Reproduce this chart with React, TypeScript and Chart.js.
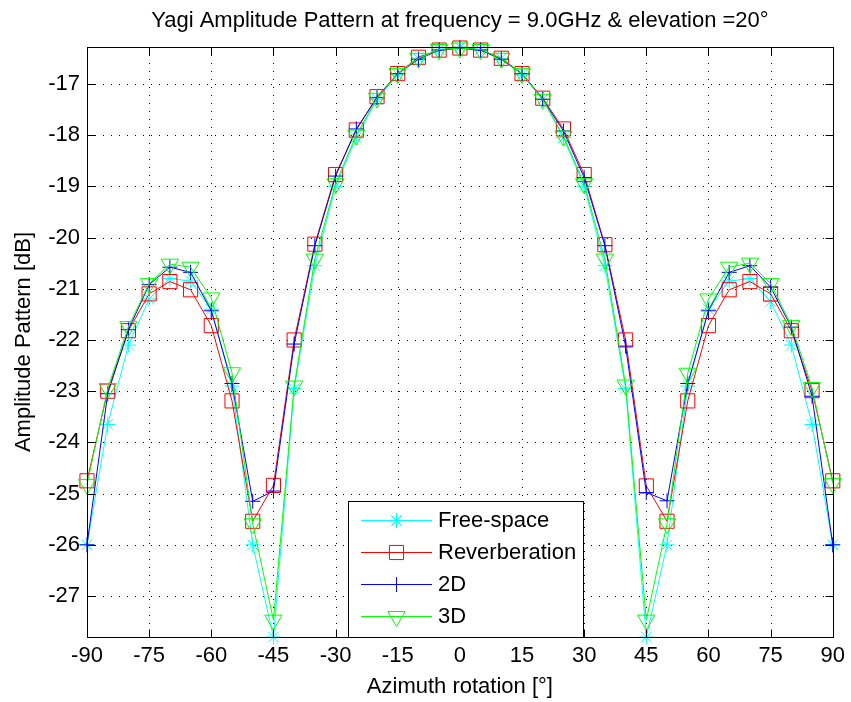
import { useEffect, useRef } from "react";
import { Chart, registerables } from "chart.js";
import { drawPoint } from "chart.js/helpers";

Chart.register(...registerables);

// ---------- data ----------
const azimuth = [
  -90, -85, -80, -75, -70, -65, -60, -55, -50, -45, -40, -35, -30, -25, -20, -15, -10, -5, 0,
  5, 10, 15, 20, 25, 30, 35, 40, 45, 50, 55, 60, 65, 70, 75, 80, 85, 90,
];

const freeSpace = [
  -26.0, -23.65, -22.1, -21.2, -20.8, -20.85, -21.4, -22.9, -26.0, -27.8, -22.95, -20.55, -19.0,
  -18.05, -17.3, -16.82, -16.5, -16.33, -16.28, -16.33, -16.5, -16.82, -17.3, -18.05, -19.0,
  -20.55, -22.95, -27.8, -26.0, -22.9, -21.4, -20.85, -20.8, -21.25, -22.1, -23.65, -26.0,
];

const reverberation = [
  -24.75, -23.0, -21.82, -21.1, -20.86, -21.02, -21.72, -23.19, -25.54, -24.84, -22.0, -20.13,
  -18.77, -17.9, -17.25, -16.8, -16.48, -16.34, -16.3, -16.34, -16.5, -16.8, -17.28, -17.88,
  -18.77, -20.14, -22.0, -24.85, -25.54, -23.19, -21.72, -21.02, -20.86, -21.1, -21.82, -22.99,
  -24.75,
];

const twoD = [
  -26.0, -23.05, -21.8, -20.92, -20.58, -20.68, -21.43, -22.85, -25.15, -24.95, -22.08, -20.16,
  -18.8, -17.88, -17.27, -16.8, -16.52, -16.34, -16.3, -16.34, -16.52, -16.8, -17.3, -17.92,
  -18.83, -20.16, -22.12, -24.98, -25.14, -22.85, -21.43, -20.68, -20.55, -20.97, -21.75, -23.1,
  -26.0,
];

const threeD = [
  -24.82, -22.95, -21.74, -20.9, -20.52, -20.58, -21.18, -22.64, -25.59, -27.47, -22.9, -20.42,
  -18.95, -18.0, -17.28, -16.8, -16.5, -16.33, -16.3, -16.33, -16.5, -16.8, -17.3, -18.02,
  -18.95, -20.42, -22.88, -27.47, -25.59, -22.65, -21.2, -20.58, -20.5, -20.9, -21.72, -22.93,
  -24.8,
];

const seriesNames = ["Free-space", "Reverberation", "2D", "3D"];
const xTickValues = [-90, -75, -60, -45, -30, -15, 0, 15, 30, 45, 60, 75, 90];
const yTickValues = [-27, -26, -25, -24, -23, -22, -21, -20, -19, -18, -17];
const xMin = -90;
const xMax = 90;
const yMin = -27.8;
const yMax = -16.28;

const titleText = "Yagi Amplitude Pattern at frequency = 9.0GHz & elevation =20°";
const xTitleText = "Azimuth rotation [°]";
const yTitleText = "Amplitude Pattern [dB]";

// ---------- styles ----------
const FONT_FAMILY = '"Liberation Sans", Arial, Helvetica, sans-serif';
const FONT_SIZE = 22;

const seriesStyles = [
  { color: "#00FFFF", pointStyle: "star", radius: 7.5, rotation: 0 },
  { color: "#FF0000", pointStyle: "rect", radius: 10, rotation: 0 },
  { color: "#0000FF", pointStyle: "cross", radius: 7.5, rotation: 0 },
  { color: "#00FF00", pointStyle: "triangle", radius: 10, rotation: 180 },
];

const seriesValues = [freeSpace, reverberation, twoD, threeD];

const matlabPlugin = {
  id: "matlabDecor",
  beforeDatasetsDraw(chart: any) {
    const { ctx, chartArea: a, scales } = chart;
    const x = scales.x;
    const y = scales.y;
    ctx.save();
    ctx.strokeStyle = "#000";
    ctx.lineWidth = 1;
    ctx.setLineDash([1, 7]);
    for (const v of xTickValues) {
      const px = Math.round(x.getPixelForValue(v)) + 0.5;
      ctx.beginPath();
      ctx.moveTo(px, a.top);
      ctx.lineTo(px, a.bottom);
      ctx.stroke();
    }
    for (const v of yTickValues) {
      const py = Math.round(y.getPixelForValue(v)) + 0.5;
      ctx.beginPath();
      ctx.moveTo(a.left, py);
      ctx.lineTo(a.right, py);
      ctx.stroke();
    }
    ctx.restore();
  },
  afterDatasetsDraw(chart: any) {
    const { ctx, chartArea: a, scales } = chart;
    const x = scales.x;
    const y = scales.y;
    const L = Math.round(a.left) + 0.5;
    const R = Math.round(a.right) + 0.5;
    const T = Math.round(a.top) + 0.5;
    const B = Math.round(a.bottom) + 0.5;
    const tl = 8;
    ctx.save();
    ctx.strokeStyle = "#000";
    ctx.lineWidth = 1;
    ctx.setLineDash([]);
    // inward ticks
    ctx.beginPath();
    for (const v of xTickValues) {
      const px = Math.round(x.getPixelForValue(v)) + 0.5;
      ctx.moveTo(px, B);
      ctx.lineTo(px, B - tl);
      ctx.moveTo(px, T);
      ctx.lineTo(px, T + tl);
    }
    for (const v of yTickValues) {
      const py = Math.round(y.getPixelForValue(v)) + 0.5;
      ctx.moveTo(L, py);
      ctx.lineTo(L + tl, py);
      ctx.moveTo(R, py);
      ctx.lineTo(R - tl, py);
    }
    ctx.stroke();

    // legend
    const lgL = 348.5;
    const lgR = 583.5;
    const lgT = 501.5;
    const lgB = B;
    ctx.fillStyle = "#fff";
    ctx.fillRect(lgL, lgT, lgR - lgL, lgB - lgT);
    ctx.strokeRect(lgL, lgT, lgR - lgL, lgB - lgT);
    const rows = [520, 552, 584, 616];
    ctx.font = `${FONT_SIZE}px ${FONT_FAMILY}`;
    ctx.textBaseline = "middle";
    ctx.textAlign = "left";
    seriesNames.forEach((name, i) => {
      const st = seriesStyles[i];
      const ry = rows[i] + 0.5;
      ctx.strokeStyle = st.color;
      ctx.lineWidth = 1;
      ctx.beginPath();
      ctx.moveTo(361, ry);
      ctx.lineTo(432, ry);
      ctx.stroke();
      ctx.fillStyle = "rgba(0,0,0,0)";
      drawPoint(
        ctx,
        { pointStyle: st.pointStyle, rotation: st.rotation, radius: st.radius, borderWidth: 1 } as any,
        396.5,
        ry
      );
      ctx.fillStyle = "#000";
      ctx.fillText(name, 438, rows[i] + 1);
    });

    // box
    ctx.strokeStyle = "#000";
    ctx.strokeRect(L, T, R - L, B - T);
    ctx.restore();
  },
  afterDraw(chart: any) {
    const { ctx, chartArea: a } = chart;
    const cx = (a.left + a.right) / 2;
    const cy = (a.top + a.bottom) / 2;
    ctx.save();
    ctx.fillStyle = "#000";
    ctx.font = `${FONT_SIZE}px ${FONT_FAMILY}`;
    ctx.textAlign = "center";
    ctx.textBaseline = "middle";
    ctx.fillText(titleText, cx, 21);
    ctx.fillText(xTitleText, cx, 687);
    ctx.translate(24, cy);
    ctx.rotate(-Math.PI / 2);
    ctx.fillText(yTitleText, 0, 0);
    ctx.restore();
  },
};

export default function App() {
  const canvasRef = useRef<HTMLCanvasElement | null>(null);

  useEffect(() => {
    const canvas = canvasRef.current;
    if (!canvas) return;
    const datasets = seriesNames.map((name, i) => {
      const st = seriesStyles[i];
      return {
        label: name,
        data: azimuth.map((az, k) => ({ x: az, y: seriesValues[i][k] })),
        borderColor: st.color,
        backgroundColor: "rgba(0,0,0,0)",
        borderWidth: 1,
        pointStyle: st.pointStyle,
        pointRadius: st.radius,
        pointRotation: st.rotation,
        pointBorderColor: st.color,
        pointBackgroundColor: "rgba(0,0,0,0)",
        pointBorderWidth: 1,
        tension: 0,
        fill: false,
        clip: false as any,
        order: 3 - i,
      };
    });

    const tickFont = { family: FONT_FAMILY, size: FONT_SIZE };

    const chart = new Chart(canvas, {
      type: "line",
      data: { datasets: datasets as any },
      options: {
        animation: false,
        responsive: false,
        devicePixelRatio: 1,
        events: [],
        layout: { padding: { top: 47, right: 15, left: 0, bottom: 0 } },
        plugins: {
          legend: { display: false },
          title: { display: false },
          tooltip: { enabled: false },
        },
        scales: {
          x: {
            type: "linear",
            min: xMin,
            max: xMax,
            afterBuildTicks: (s: any) => {
              s.ticks = xTickValues.map((v) => ({ value: v }));
            },
            afterFit: (s: any) => {
              s.height = 65;
            },
            grid: { display: false, drawTicks: false },
            border: { display: false },
            ticks: {
              color: "#000",
              font: tickFont,
              padding: 6,
              maxRotation: 0,
              autoSkip: false,
              callback: (v: any) => String(v),
            },
          },
          y: {
            type: "linear",
            min: yMin,
            max: yMax,
            afterBuildTicks: (s: any) => {
              s.ticks = yTickValues.map((v) => ({ value: v }));
            },
            afterFit: (s: any) => {
              s.width = 87;
            },
            grid: { display: false, drawTicks: false },
            border: { display: false },
            ticks: {
              color: "#000",
              font: tickFont,
              padding: 7,
              autoSkip: false,
              callback: (v: any) => String(v),
            },
          },
        },
      },
      plugins: [matlabPlugin],
    });

    return () => chart.destroy();
  }, []);

  return (
    <div
      style={{
        position: "fixed",
        left: 0,
        top: 0,
        width: 851,
        height: 702,
        background: "#fff",
      }}
    >
      <canvas ref={canvasRef} width={851} height={702} style={{ display: "block" }} />
    </div>
  );
}
